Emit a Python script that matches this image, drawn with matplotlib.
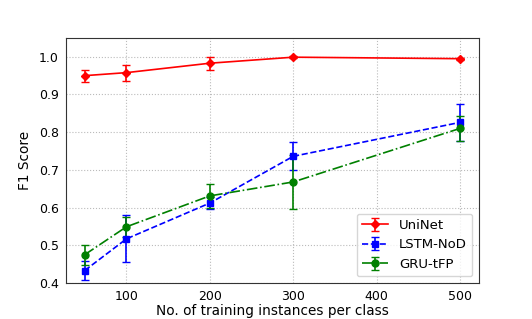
import numpy as np
import matplotlib
matplotlib.use("Agg")
from matplotlib import pyplot as plt

# training instances per class
instances = [50, 100, 200, 300, 500]

# F1 scores and std per model
uninet = [0.950, 0.958, 0.983, 0.999, 0.995]
uninet_err = [0.016, 0.021, 0.017, 0.003, 0.003]

lstm_nod = [0.433, 0.517, 0.612, 0.736, 0.826]
lstm_nod_err = [0.025, 0.062, 0.015, 0.037, 0.049]

gru_tfp = [0.475, 0.549, 0.631, 0.668, 0.810]
gru_tfp_err = [0.027, 0.027, 0.031, 0.072, 0.034]

fig = plt.figure(figsize=(5.32, 3.19), dpi=100)
ax = fig.add_axes([0.124, 0.113, 0.776, 0.768])

ax.errorbar(instances, uninet, yerr=uninet_err, color='red', linestyle='-',
            marker='D', markersize=4.5, capsize=3, linewidth=1.2, label='UniNet')
ax.errorbar(instances, lstm_nod, yerr=lstm_nod_err, color='blue', linestyle='--',
            marker='s', markersize=5, capsize=3, linewidth=1.2, label='LSTM-NoD')
ax.errorbar(instances, gru_tfp, yerr=gru_tfp_err, color='green', linestyle='-.',
            marker='o', markersize=5, capsize=3, linewidth=1.2, label='GRU-tFP')

ax.set_ylim(0.4, 1.05)
ax.set_xticks([100, 200, 300, 400, 500])
ax.set_yticks([0.4, 0.5, 0.6, 0.7, 0.8, 0.9, 1.0])
ax.grid(True, linestyle=':', color='#bbbbbb', linewidth=0.8)
ax.tick_params(labelsize=9, length=0, pad=5)
for sp in ax.spines.values():
    sp.set_color('0.2')

ax.set_xlabel('No. of training instances per class', fontsize=9.8, labelpad=1)
ax.set_ylabel('F1 Score', fontsize=9.8, labelpad=5)
ax.legend(loc='lower right', fontsize=9.5)

fig.savefig('out.png', dpi=100)
